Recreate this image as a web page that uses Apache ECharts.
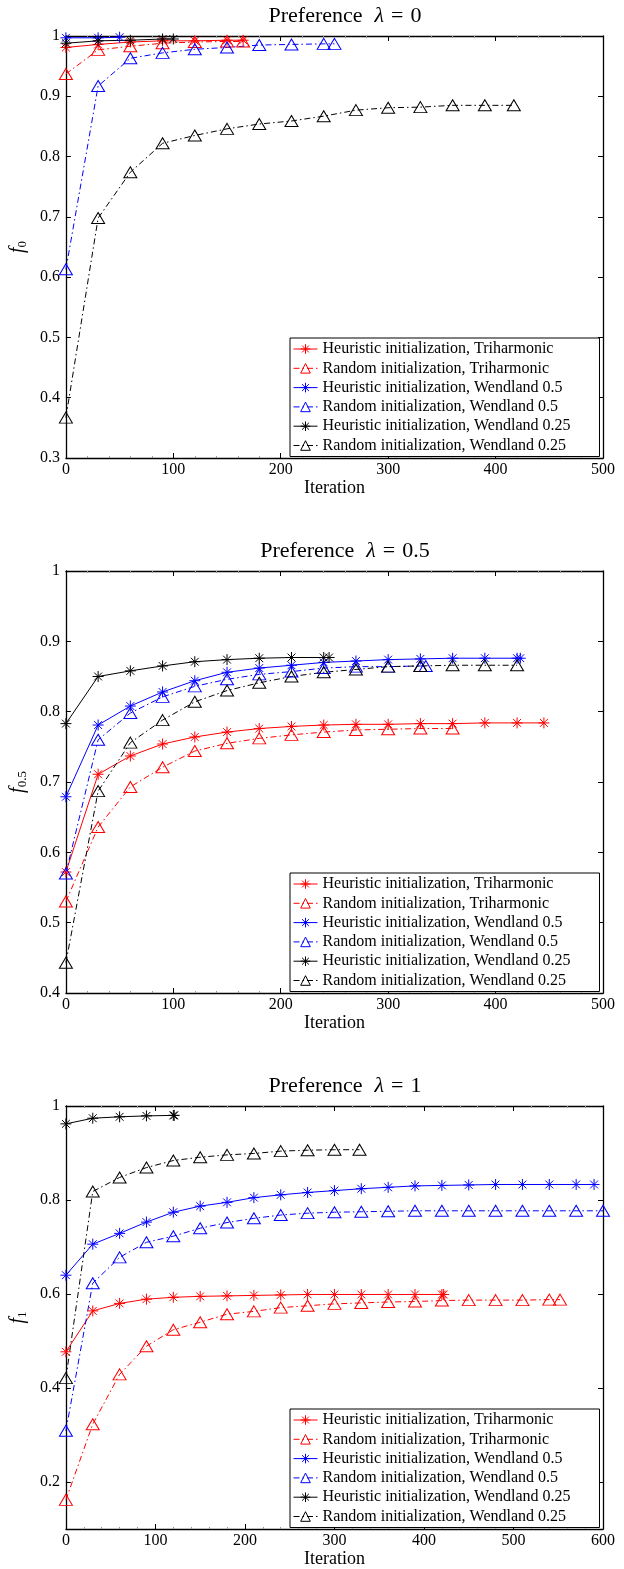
<!DOCTYPE html>
<html>
<head>
<meta charset="UTF-8">
<title>Preference</title>
<script src="https://cdn.jsdelivr.net/npm/echarts@6/dist/echarts.min.js"></script>
</head>
<body style="margin:0">
<div id="main" style="width:624px;height:1569px;"></div>
<script>
// legend / series names
var names = [
    'Heuristic initialization, Triharmonic',
    'Random initialization, Triharmonic',
    'Heuristic initialization, Wendland 0.5',
    'Random initialization, Wendland 0.5',
    'Heuristic initialization, Wendland 0.25',
    'Random initialization, Wendland 0.25'
];

// panel 1: lambda = 0
var p0HeurTriX = [0, 30, 60, 90, 120, 150, 165];
var p0HeurTriY = [0.981, 0.986, 0.990, 0.992, 0.992, 0.993, 0.993];
var p0RandTriX = [0, 30, 60, 90, 120, 150, 165];
var p0RandTriY = [0.937, 0.977, 0.983, 0.988, 0.990, 0.991, 0.991];
var p0HeurW05X = [0, 30, 50];
var p0HeurW05Y = [0.997, 0.997, 0.998];
var p0RandW05X = [0, 30, 60, 90, 120, 150, 180, 210, 240, 250];
var p0RandW05Y = [0.613, 0.917, 0.963, 0.972, 0.978, 0.981, 0.985, 0.986, 0.987, 0.987];
var p0HeurW025X = [0, 30, 60, 90, 100];
var p0HeurW025Y = [0.988, 0.992, 0.993, 0.995, 0.995];
var p0RandW025X = [0, 30, 60, 90, 120, 150, 180, 210, 240, 270, 300, 330, 360, 390, 417];
var p0RandW025Y = [0.367, 0.698, 0.774, 0.822, 0.835, 0.846, 0.854, 0.859, 0.867, 0.877, 0.881, 0.882, 0.885, 0.885, 0.885];

// panel 2: lambda = 0.5
var p1HeurTriX = [0, 30, 60, 90, 120, 150, 180, 210, 240, 270, 300, 330, 360, 390, 420, 445];
var p1HeurTriY = [0.572, 0.711, 0.737, 0.754, 0.764, 0.771, 0.776, 0.779, 0.781, 0.782, 0.782, 0.783, 0.783, 0.784, 0.784, 0.784];
var p1RandTriX = [0, 30, 60, 90, 120, 150, 180, 210, 240, 270, 300, 330, 360];
var p1RandTriY = [0.530, 0.636, 0.693, 0.721, 0.744, 0.755, 0.762, 0.767, 0.771, 0.774, 0.775, 0.776, 0.776];
var p1HeurW05X = [0, 30, 60, 90, 120, 150, 180, 210, 240, 270, 300, 330, 360, 390, 420, 423];
var p1HeurW05Y = [0.679, 0.781, 0.808, 0.828, 0.844, 0.856, 0.862, 0.866, 0.870, 0.872, 0.874, 0.875, 0.876, 0.876, 0.876, 0.876];
var p1RandW05X = [0, 30, 60, 90, 120, 150, 180, 210, 240, 270, 300, 330, 335];
var p1RandW05Y = [0.570, 0.760, 0.798, 0.821, 0.836, 0.846, 0.853, 0.857, 0.862, 0.864, 0.864, 0.865, 0.865];
var p1HeurW025X = [0, 30, 60, 90, 120, 150, 180, 210, 240, 245];
var p1HeurW025Y = [0.783, 0.850, 0.858, 0.865, 0.871, 0.874, 0.876, 0.877, 0.877, 0.877];
var p1RandW025X = [0, 30, 60, 90, 120, 150, 180, 210, 240, 270, 300, 330, 360, 390, 420];
var p1RandW025Y = [0.443, 0.687, 0.756, 0.788, 0.814, 0.830, 0.841, 0.850, 0.856, 0.860, 0.864, 0.865, 0.866, 0.866, 0.866];

// panel 3: lambda = 1
var p2HeurTriX = [0, 30, 60, 90, 120, 150, 180, 210, 240, 270, 300, 330, 360, 390, 420, 422];
var p2HeurTriY = [0.477, 0.564, 0.580, 0.589, 0.593, 0.595, 0.596, 0.597, 0.598, 0.599, 0.599, 0.599, 0.599, 0.599, 0.599, 0.599];
var p2RandTriX = [0, 30, 60, 90, 120, 150, 180, 210, 240, 270, 300, 330, 360, 390, 420, 450, 480, 510, 540, 552];
var p2RandTriY = [0.162, 0.323, 0.429, 0.489, 0.524, 0.540, 0.557, 0.563, 0.571, 0.575, 0.579, 0.581, 0.583, 0.584, 0.586, 0.587, 0.587, 0.587, 0.588, 0.588];
var p2HeurW05X = [0, 30, 60, 90, 120, 150, 180, 210, 240, 270, 300, 330, 360, 390, 420, 450, 480, 510, 540, 570, 590];
var p2HeurW05Y = [0.640, 0.706, 0.729, 0.753, 0.774, 0.787, 0.795, 0.805, 0.811, 0.816, 0.820, 0.824, 0.827, 0.830, 0.831, 0.832, 0.833, 0.833, 0.833, 0.833, 0.833];
var p2RandW05X = [0, 30, 60, 90, 120, 150, 180, 210, 240, 270, 300, 330, 360, 390, 420, 450, 480, 510, 540, 570, 600];
var p2RandW05Y = [0.309, 0.623, 0.678, 0.710, 0.723, 0.740, 0.752, 0.761, 0.768, 0.772, 0.774, 0.775, 0.776, 0.777, 0.777, 0.777, 0.777, 0.777, 0.777, 0.777, 0.777];
var p2HeurW025X = [0, 30, 60, 90, 120, 121];
var p2HeurW025Y = [0.962, 0.974, 0.977, 0.979, 0.980, 0.980];
var p2RandW025X = [0, 30, 60, 90, 120, 150, 180, 210, 240, 270, 300, 328];
var p2RandW025Y = [0.421, 0.818, 0.848, 0.869, 0.884, 0.891, 0.896, 0.899, 0.904, 0.906, 0.907, 0.907];

var yTicks2 = [0.2, 0.4, 0.6, 0.8, 1];

var serif = "'Liberation Serif', 'Times New Roman', serif";
var colors = ['#ff0000', '#ff0000', '#0000ff', '#0000ff', '#000000', '#000000'];
var asterisk = 'path://M0,-10L0,10M-10,0L10,0M-7.1,-7.1L7.1,7.1M-7.1,7.1L7.1,-7.1';

var panels = [
    { title: '0', sub: '0', top: 36, h: 422, xMax: 500, yMin: 0.3,
      xs: [p0HeurTriX, p0RandTriX, p0HeurW05X, p0RandW05X, p0HeurW025X, p0RandW025X],
      ys: [p0HeurTriY, p0RandTriY, p0HeurW05Y, p0RandW05Y, p0HeurW025Y, p0RandW025Y] },
    { title: '0.5', sub: '0.5', top: 571, h: 422, xMax: 500, yMin: 0.4,
      xs: [p1HeurTriX, p1RandTriX, p1HeurW05X, p1RandW05X, p1HeurW025X, p1RandW025X],
      ys: [p1HeurTriY, p1RandTriY, p1HeurW05Y, p1RandW05Y, p1HeurW025Y, p1RandW025Y] },
    { title: '1', sub: '1', top: 1106, h: 423, xMax: 600, yMin: 0.1,
      xs: [p2HeurTriX, p2RandTriX, p2HeurW05X, p2RandW05X, p2HeurW025X, p2RandW025X],
      ys: [p2HeurTriY, p2RandTriY, p2HeurW05Y, p2RandW05Y, p2HeurW025Y, p2RandW025Y] }
];

var myChart = echarts.init(document.getElementById('main'));

var option = {
    animation: false,
    backgroundColor: '#fff',
    title: [], grid: [], xAxis: [], yAxis: [], legend: [], series: []
};

function fmt(v) { return String(+v.toFixed(1)); }

panels.forEach(function (p, i) {
    option.grid.push({ left: 65, top: p.top, width: 538, height: p.h });
    // 标题: Preference λ = x (数学排版间距)
    option.title.push({
        text: '{n|Preference}{l|λ}{e|=}{n|' + p.title + '}',
        left: 340, textAlign: 'center', top: p.top - 36,
        textStyle: {
            fontWeight: 'normal',
            rich: {
                n: { fontFamily: serif, fontSize: 22, color: '#000' },
                l: { fontFamily: serif, fontSize: 22, fontStyle: 'italic', color: '#000', padding: [0, 0, 0, 12] },
                e: { fontFamily: serif, fontSize: 22, color: '#000', padding: [0, 7, 0, 7] }
            }
        }
    });
    var lineSty = { color: '#000', width: 1 };
    // bottom x
    option.xAxis.push({
        type: 'value', gridIndex: i, min: 0, max: p.xMax, interval: 100, position: 'bottom',
        name: 'Iteration', nameLocation: 'middle', nameGap: 21,
        nameTextStyle: { fontFamily: serif, fontSize: 18, color: '#000' },
        axisLine: { show: true, onZero: false, lineStyle: { color: '#000', width: 1.3 } },
        axisTick: { show: true, inside: true, length: 5, lineStyle: lineSty },
        minorTick: { show: true, splitNumber: 5, length: 2, lineStyle: { color: '#999' } },
        axisLabel: { color: '#000', fontFamily: serif, fontSize: 16, margin: 4 },
        splitLine: { show: false }
    });
    // top x
    option.xAxis.push({
        type: 'value', gridIndex: i, min: 0, max: p.xMax, interval: 100, position: 'top',
        axisLine: { show: true, onZero: false, lineStyle: { color: '#000', width: 1.3 } },
        axisTick: { show: true, inside: true, length: 5, lineStyle: lineSty },
        minorTick: { show: true, splitNumber: 5, length: 2, lineStyle: { color: '#999' } },
        axisLabel: { show: false }, splitLine: { show: false }
    });
    var yLeft = {
        type: 'value', gridIndex: i, min: p.yMin, max: 1, position: 'left',
        name: '{f|f}{s|' + p.sub + '}', nameLocation: 'middle', nameGap: 36, nameRotate: 90,
        nameTextStyle: {
            rich: {
                f: { fontFamily: serif, fontSize: 20, fontStyle: 'italic', color: '#000' },
                s: { fontFamily: serif, fontSize: 13, color: '#000', padding: [9, 0, 0, 0] }
            }
        },
        axisLine: { show: true, onZero: false, lineStyle: { color: '#000', width: 1.3 } },
        axisTick: { show: true, inside: true, length: 5, lineStyle: lineSty },
        axisLabel: { color: '#000', fontFamily: serif, fontSize: 16, margin: 6, formatter: fmt },
        splitLine: { show: false }
    };
    var yRight = {
        type: 'value', gridIndex: i, min: p.yMin, max: 1, position: 'right',
        axisLine: { show: true, onZero: false, lineStyle: { color: '#000', width: 1.3 } },
        axisTick: { show: true, inside: true, length: 5, lineStyle: lineSty },
        axisLabel: { show: false }, splitLine: { show: false }
    };
    if (i === 2) {
        yLeft.axisLabel.customValues = yTicks2;
        yLeft.axisTick.customValues = yTicks2;
        yRight.axisTick.customValues = yTicks2;
    } else {
        yLeft.interval = 0.1;
        yRight.interval = 0.1;
    }
    option.yAxis.push(yLeft, yRight);

    option.legend.push({
        data: names, orient: 'vertical', left: 290, top: p.top + p.h - 120,
        padding: [3, 29, 3, 3], itemGap: 3.3, itemWidth: 24, itemHeight: 12,
        backgroundColor: '#fff', borderColor: '#000', borderWidth: 1, borderRadius: 0,
        selectedMode: false,
        itemStyle: { borderWidth: 1 },
        lineStyle: { width: 1 },
        textStyle: { fontFamily: serif, fontSize: 16, color: '#000', lineHeight: 16 }
    });

    names.forEach(function (nm, k) {
        var heuristic = k % 2 === 0;
        var pts = p.xs[k].map(function (x, j) { return [x, p.ys[k][j]]; });
        option.series.push({
            name: nm, type: 'line', xAxisIndex: 2 * i, yAxisIndex: 2 * i,
            data: pts,
            symbol: heuristic ? asterisk : 'triangle',
            symbolSize: heuristic ? 11 : [13, 11],
            showAllSymbol: true, clip: false,
            itemStyle: { color: 'none', borderColor: colors[k], borderWidth: 1 },
            lineStyle: { color: colors[k], width: 1, type: heuristic ? 'solid' : [6, 3, 1.5, 3] }
        });
    });
});

myChart.setOption(option);
</script>
</body>
</html>
